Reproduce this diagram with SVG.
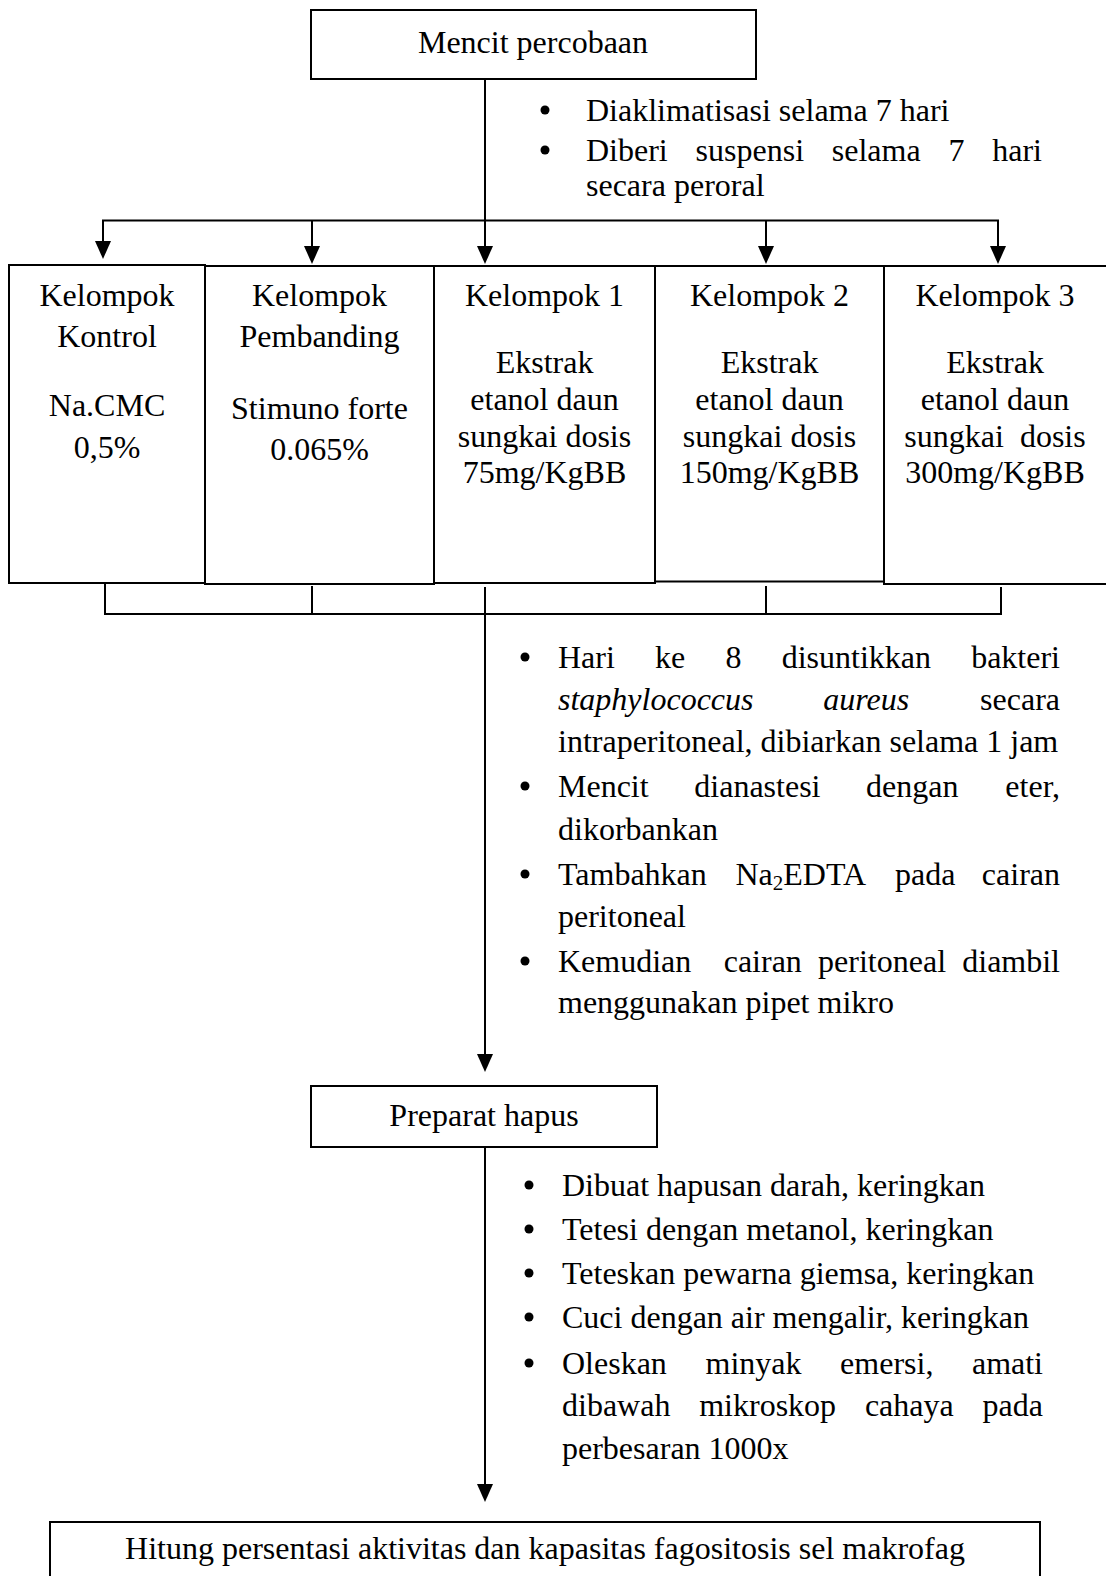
<svg xmlns="http://www.w3.org/2000/svg" width="1106" height="1576" viewBox="0 0 1106 1576">
  <style>
    text { font-family: "Liberation Serif", "Times New Roman", serif; font-size: 32px; fill: #000; }
    .c { text-anchor: middle; }
    .e { text-anchor: end; }
    .i { font-style: italic; }
    .pre { white-space: pre; }
    .box { fill: #fff; stroke: #000; stroke-width: 2; }
    .ln { fill: none; stroke: #000; stroke-width: 2; }
    .dot { fill: #000; }
  </style>
  <defs>
    <marker id="arrow" markerUnits="userSpaceOnUse" viewBox="0 0 18 16" refX="12" refY="8" markerWidth="18" markerHeight="16" orient="auto">
      <path d="M0,0 L18,8 L0,16 Z" fill="#000"/>
    </marker>
  </defs>
  <rect width="1106" height="1576" fill="#fff"/>

  <!-- connectors -->
  <g id="connectors">
    <!-- trunk from the start node down to the group row -->
    <line class="ln" x1="485" y1="79" x2="485" y2="258" marker-end="url(#arrow)"/>
    <!-- distribution bar -->
    <polyline class="ln" points="103,253 103,220.5 998,220.5 998,258"/>
    <line class="ln" x1="103" y1="220.5" x2="103" y2="253" marker-end="url(#arrow)"/>
    <line class="ln" x1="312" y1="220.5" x2="312" y2="258" marker-end="url(#arrow)"/>
    <line class="ln" x1="766" y1="220.5" x2="766" y2="258" marker-end="url(#arrow)"/>
    <line class="ln" x1="998" y1="220.5" x2="998" y2="258" marker-end="url(#arrow)"/>
    <!-- collecting bracket under the group row -->
    <polyline class="ln" points="105,583 105,614 1001,614 1001,587"/>
    <line class="ln" x1="312" y1="586" x2="312" y2="614"/>
    <line class="ln" x1="766" y1="586" x2="766" y2="614"/>
    <!-- trunk to the smear node -->
    <line class="ln" x1="485" y1="587" x2="485" y2="1066" marker-end="url(#arrow)"/>
    <!-- trunk to the final node -->
    <line class="ln" x1="485" y1="1147" x2="485" y2="1496" marker-end="url(#arrow)"/>
  </g>

  <!-- start node -->
  <g id="node-mencit">
    <rect class="box" x="311" y="10" width="445" height="69"/>
    <text class="c" x="533" y="53">Mencit percobaan</text>
  </g>

  <!-- notes on acclimatisation -->
  <g id="notes-aklimatisasi">
    <circle class="dot" cx="545" cy="110" r="4.5"/>
    <circle class="dot" cx="545" cy="150" r="4.5"/>
    <text x="586" y="121">Diaklimatisasi selama 7 hari</text>
    <text x="586" y="161">Diberi</text>
    <text x="695.6" y="161">suspensi</text>
    <text x="831.8" y="161">selama</text>
    <text x="948.5" y="161">7</text>
    <text class="e" x="1042" y="161">hari</text>
    <text x="586" y="196">secara peroral</text>
  </g>

  <!-- treatment groups -->
  <g id="node-kontrol">
    <rect class="box" x="9" y="265" width="196" height="318"/>
    <text class="c" x="107" y="306">Kelompok</text>
    <text class="c" x="107" y="347">Kontrol</text>
    <text class="c" x="107" y="416">Na.CMC</text>
    <text class="c" x="107" y="458">0,5%</text>
  </g>
  <g id="node-pembanding">
    <rect class="box" x="205" y="266" width="229" height="318"/>
    <text class="c" x="319.5" y="306">Kelompok</text>
    <text class="c" x="319.5" y="347">Pembanding</text>
    <text class="c" x="319.5" y="419">Stimuno forte</text>
    <text class="c" x="319.5" y="460">0.065%</text>
  </g>
  <g id="node-kelompok1">
    <rect class="box" x="434" y="266" width="221" height="317"/>
    <text class="c" x="544.5" y="306">Kelompok 1</text>
    <text class="c" x="544.5" y="373">Ekstrak</text>
    <text class="c" x="544.5" y="410">etanol daun</text>
    <text class="c" x="544.5" y="447">sungkai dosis</text>
    <text class="c" x="544.5" y="483">75mg/KgBB</text>
  </g>
  <g id="node-kelompok2">
    <rect class="box" x="655" y="266" width="229" height="315.5"/>
    <text class="c" x="769.5" y="306">Kelompok 2</text>
    <text class="c" x="769.5" y="373">Ekstrak</text>
    <text class="c" x="769.5" y="410">etanol daun</text>
    <text class="c" x="769.5" y="447">sungkai dosis</text>
    <text class="c" x="769.5" y="483">150mg/KgBB</text>
  </g>
  <g id="node-kelompok3">
    <rect class="box" x="884" y="266" width="226" height="318"/>
    <text class="c" x="995" y="306">Kelompok 3</text>
    <text class="c" x="995" y="373">Ekstrak</text>
    <text class="c" x="995" y="410">etanol daun</text>
    <text class="c pre" x="995" y="447">sungkai  dosis</text>
    <text class="c" x="995" y="483">300mg/KgBB</text>
  </g>

  <!-- notes on infection and sampling -->
  <g id="notes-infeksi">
    <circle class="dot" cx="525" cy="657" r="4.5"/>
    <circle class="dot" cx="525" cy="786" r="4.5"/>
    <circle class="dot" cx="525" cy="874" r="4.5"/>
    <circle class="dot" cx="525" cy="961" r="4.5"/>
    <text x="558" y="668">Hari</text>
    <text x="655.1" y="668">ke</text>
    <text x="725.5" y="668">8</text>
    <text x="781.7" y="668">disuntikkan</text>
    <text class="e" x="1060" y="668">bakteri</text>
    <text class="i" x="558" y="710">staphylococcus</text>
    <text class="i" x="823.3" y="710">aureus</text>
    <text class="e" x="1060" y="710">secara</text>
    <text x="558" y="752">intraperitoneal, dibiarkan selama 1 jam</text>
    <text x="558" y="797">Mencit</text>
    <text x="694.3" y="797">dianastesi</text>
    <text x="866.1" y="797">dengan</text>
    <text class="e" x="1060" y="797">eter,</text>
    <text x="558" y="840">dikorbankan</text>
    <text x="558" y="885">Tambahkan</text>
    <text x="735.5" y="885">Na<tspan font-size="21" dy="5">2</tspan><tspan dy="-5">EDTA</tspan></text>
    <text x="895" y="885">pada</text>
    <text class="e" x="1060" y="885">cairan</text>
    <text x="558" y="927">peritoneal</text>
    <text x="558" y="972">Kemudian</text>
    <text x="723.7" y="972">cairan</text>
    <text x="818.1" y="972">peritoneal</text>
    <text class="e" x="1060" y="972">diambil</text>
    <text x="558" y="1013">menggunakan pipet mikro</text>
  </g>

  <!-- smear node -->
  <g id="node-preparat">
    <rect class="box" x="311" y="1086" width="346" height="61"/>
    <text class="c" x="484" y="1126">Preparat hapus</text>
  </g>

  <!-- notes on staining -->
  <g id="notes-pewarnaan">
    <circle class="dot" cx="529" cy="1185" r="4.5"/>
    <circle class="dot" cx="529" cy="1229" r="4.5"/>
    <circle class="dot" cx="529" cy="1273" r="4.5"/>
    <circle class="dot" cx="529" cy="1317" r="4.5"/>
    <circle class="dot" cx="529" cy="1363" r="4.5"/>
    <text x="562" y="1196">Dibuat hapusan darah, keringkan</text>
    <text x="562" y="1240">Tetesi dengan metanol, keringkan</text>
    <text x="562" y="1284">Teteskan pewarna giemsa, keringkan</text>
    <text x="562" y="1328">Cuci dengan air mengalir, keringkan</text>
    <text x="562" y="1374">Oleskan</text>
    <text x="705.5" y="1374">minyak</text>
    <text x="840.1" y="1374">emersi,</text>
    <text class="e" x="1043" y="1374">amati</text>
    <text x="562" y="1416">dibawah</text>
    <text x="699.2" y="1416">mikroskop</text>
    <text x="864.9" y="1416">cahaya</text>
    <text class="e" x="1043" y="1416">pada</text>
    <text x="562" y="1459">perbesaran 1000x</text>
  </g>

  <!-- final node -->
  <g id="node-hitung">
    <rect class="box" x="50" y="1522" width="990" height="70"/>
    <text class="c" x="545" y="1559">Hitung persentasi aktivitas dan kapasitas fagositosis sel makrofag</text>
  </g>
</svg>
